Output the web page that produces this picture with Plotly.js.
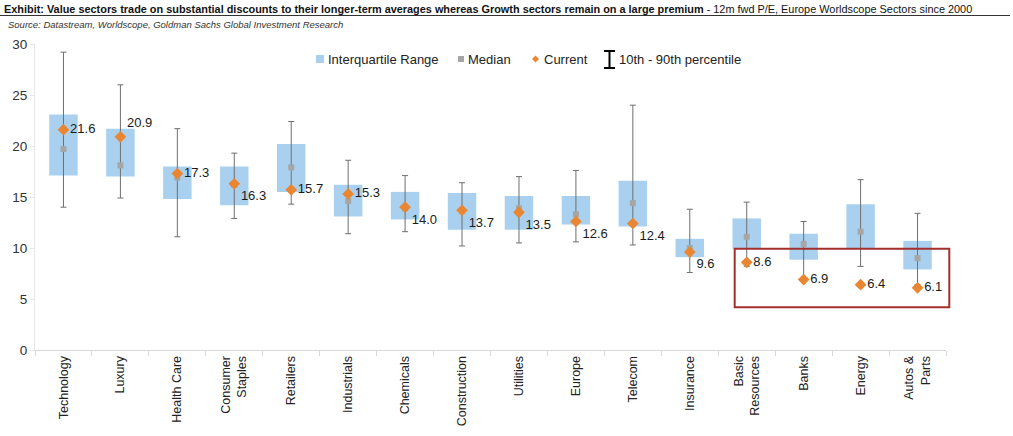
<!DOCTYPE html>
<html>
<head>
<meta charset="utf-8">
<script src="https://cdn.plot.ly/plotly-3.0.1.min.js"></script>
<style>html,body{margin:0;padding:0;background:#fff;}#chart{width:1013px;height:436px;}</style>
</head>
<body>
<div id="chart"></div>
<script>
// ---- data ----
const sectors = ["Technology","Luxury","Health Care","Consumer<br>Staples","Retailers","Industrials","Chemicals","Construction","Utilities","Europe","Telecom","Insurance","Basic<br>Resources","Banks","Energy","Autos &<br>Parts"];
const q1      = [17.1, 17.0, 14.8, 14.2, 15.5, 13.1, 12.8, 11.8, 11.8, 12.3, 12.1,  9.1,  9.9,  8.85, 10.0, 7.9];
const q3      = [23.1, 21.7, 18.0, 18.0, 20.2, 16.2, 15.5, 15.4, 15.1, 15.1, 16.6, 10.9, 12.9, 11.4, 14.3, 10.7];
const median  = [19.7, 18.1, 16.9, 16.2, 17.9, 14.6, 13.9, 13.6, 13.9, 13.3, 14.4, 10.0, 11.1, 10.4, 11.6, 9.0];
const current = [21.6, 20.9, 17.3, 16.3, 15.7, 15.3, 14.0, 13.7, 13.5, 12.6, 12.4,  9.6,  8.6,  6.9,  6.4, 6.1];
const p10     = [14.0, 14.9, 11.1, 12.9, 14.3, 11.4, 11.6, 10.2, 10.5, 10.6, 10.3,  7.6,  8.2,  7.1,  8.2, 6.4];
const p90     = [29.2, 26.0, 21.7, 19.3, 22.4, 18.6, 17.1, 16.4, 17.0, 17.6, 24.0, 13.8, 14.5, 12.6, 16.7, 13.4];
const labelPos = ["middle right","top right","middle right","bottom right","middle right","middle right","bottom right","bottom right","bottom right","bottom right","bottom right","bottom right","middle right","middle right","middle right","middle right"];
const yTicks = [0,5,10,15,20,25,30];
const legendLabels = ["Interquartile Range","Median","Current","10th - 90th percentile"];
// highlight box: value range
const boxY = [4.2, 9.93];

const FONT = "Liberation Sans, Arial, sans-serif";
const W = 1013, H = 436, ML = 35, MR = 67, MT = 44, MB = 86;
const PW = W - ML - MR, PH = H - MT - MB;
const px = v => (v - ML) / PW;          // pixel x -> paper
const py = v => (H - MB - v) / PH;      // pixel y -> paper

const traces = [
  {
    type: "bar", name: legendLabels[0],
    x: sectors, base: q1, y: q3.map((v,i)=>v-q1[i]),
    width: 0.5, marker: {color: "#a9d1ef"},
    hoverinfo: "skip"
  },
  {
    type: "scatter", mode: "markers", name: legendLabels[3],
    x: sectors, y: p10,
    marker: {size: 1, color: "rgba(0,0,0,0)"},
    error_y: {type: "data", symmetric: false, array: p90.map((v,i)=>v-p10[i]), arrayminus: p10.map(()=>0),
              color: "#6f6f6f", thickness: 1, width: 3},
    hoverinfo: "skip"
  },
  {
    type: "scatter", mode: "markers", name: legendLabels[1],
    x: sectors, y: median,
    marker: {symbol: "square", size: 6, color: "#a6a6a6"}
  },
  {
    type: "scatter", mode: "markers+text", name: legendLabels[2],
    x: sectors, y: current,
    text: current.map(v=>v.toFixed(1)), textposition: labelPos,
    textfont: {family: FONT, size: 13, color: "#1a1a1a"},
    marker: {symbol: "diamond", size: 9, color: "#ea8531"}
  }
];

// manual legend (paper coordinates)
const ly = py(59);
const legendShapes = [
  {type: "rect", xref: "paper", yref: "paper", x0: px(316), x1: px(324), y0: py(63), y1: py(55),
   fillcolor: "#a9d1ef", line: {width: 0}},
  {type: "rect", xref: "paper", yref: "paper", x0: px(458), x1: px(464), y0: py(62), y1: py(56),
   fillcolor: "#a6a6a6", line: {width: 0}},
  {type: "path", xref: "paper", yref: "paper",
   path: `M ${px(535.5)} ${py(55.5)} L ${px(539)} ${py(59)} L ${px(535.5)} ${py(62.5)} L ${px(532)} ${py(59)} Z`,
   fillcolor: "#ea8531", line: {width: 0}},
  {type: "line", xref: "paper", yref: "paper", x0: px(609.5), x1: px(609.5), y0: py(51), y1: py(68), line: {color: "#000", width: 2}},
  {type: "line", xref: "paper", yref: "paper", x0: px(604), x1: px(615), y0: py(51), y1: py(51), line: {color: "#000", width: 2}},
  {type: "line", xref: "paper", yref: "paper", x0: px(604), x1: px(615), y0: py(68), y1: py(68), line: {color: "#000", width: 2}}
];
const legendX = [326, 466, 542, 617];
const legendAnn = legendLabels.map((t,i)=>({
  xref: "paper", yref: "paper", x: px(legendX[i]), y: ly, xanchor: "left", yanchor: "middle",
  showarrow: false, text: t, font: {family: FONT, size: 13, color: "#222"}
}));

const layout = {
  width: W, height: H,
  margin: {l: ML, r: MR, t: MT, b: MB},
  paper_bgcolor: "#fff", plot_bgcolor: "#fff",
  font: {family: FONT, color: "#222", size: 12},
  showlegend: false,
  xaxis: {
    type: "category", tickangle: -90, tickson: "boundaries", ticks: "outside", ticklen: 5,
    tickcolor: "#d9d9d9", showline: true, linecolor: "#d9d9d9", linewidth: 1,
    showgrid: false, zeroline: false, range: [-0.5, 15.5],
    tickfont: {family: FONT, size: 12.5, color: "#222"}
  },
  yaxis: {
    range: [0, 30], tickvals: yTicks, ticktext: yTicks.map(String),
    showgrid: false, zeroline: false, showline: true, linecolor: "#e6e6e6",
    ticks: "outside", ticklen: 4, tickcolor: "#e6e6e6",
    tickfont: {family: FONT, size: 13.5, color: "#333"}
  },
  shapes: [
    {type: "rect", xref: "paper", yref: "y", x0: px(734.7), x1: px(949.3), y0: boxY[0], y1: boxY[1],
     line: {color: "#a3302c", width: 2}, fillcolor: "rgba(0,0,0,0)"},
    {type: "line", xref: "paper", yref: "paper", x0: px(0), x1: px(1010), y0: py(15.5), y1: py(15.5),
     line: {color: "#333", width: 1}}
  ].concat(legendShapes),
  annotations: [
    {xref: "paper", yref: "paper", x: px(2), y: py(9.5), xanchor: "left", yanchor: "middle", showarrow: false,
     text: "<b>Exhibit: Value sectors trade on substantial discounts to their longer-term averages whereas Growth sectors remain on a large premium</b> - 12m fwd P/E, Europe Worldscope Sectors since 2000",
     font: {family: FONT, size: 10.9, color: "#111"}},
    {xref: "paper", yref: "paper", x: px(6), y: py(24), xanchor: "left", yanchor: "middle", showarrow: false,
     text: "<i>Source: Datastream, Worldscope, Goldman Sachs Global Investment Research</i>",
     font: {family: FONT, size: 9.5, color: "#333"}}
  ].concat(legendAnn)
};

Plotly.newPlot("chart", traces, layout, {displayModeBar: false, staticPlot: true});
</script>
</body>
</html>
